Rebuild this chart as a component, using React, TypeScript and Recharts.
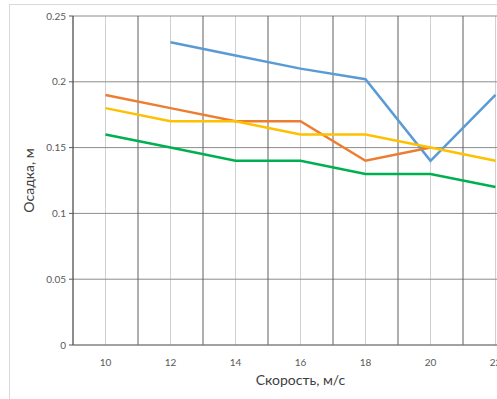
import { LineChart, Line, XAxis, YAxis, CartesianGrid, ReferenceLine, Label } from 'recharts';

const speeds = [10, 12, 14, 16, 18, 20, 22];
const seriesBlue = [null, 0.23, 0.22, 0.21, 0.202, 0.14, 0.19];
const seriesOrange = [0.19, 0.18, 0.17, 0.17, 0.14, 0.15, null];
const seriesYellow = [0.18, 0.17, 0.17, 0.16, 0.16, 0.15, 0.14];
const seriesGreen = [0.16, 0.15, 0.14, 0.14, 0.13, 0.13, 0.12];

const xTicks = [10, 12, 14, 16, 18, 20, 22];
const majorX = [11, 13, 15, 17, 19, 21, 23];
const yTicks = [0, 0.05, 0.1, 0.15, 0.2, 0.25];

const data = speeds.map((s, i) => ({
  speed: s,
  blue: seriesBlue[i] ?? undefined,
  orange: seriesOrange[i] ?? undefined,
  yellow: seriesYellow[i] ?? undefined,
  green: seriesGreen[i] ?? undefined,
}));

const tickStyle = { fontSize: 10, fill: '#595959', fontFamily: 'Lato, "Open Sans", sans-serif' };
const titleFont = 'Lato, "Open Sans", sans-serif';

export default function App() {
  return (
    <div style={{ position: 'absolute', left: 0, top: 0, width: 497, height: 399, overflow: 'hidden', background: '#fff' }}>
      <div style={{ position: 'absolute', left: 9, top: 4, width: 700, height: 600, border: '1px solid #d9d9d9' }} />
      <div style={{ position: 'absolute', left: 0, top: 0 }}>
        <LineChart width={540} height={399} data={data} margin={{ top: 16, right: 12, bottom: 24, left: 0 }}>
          <CartesianGrid horizontal={false} vertical stroke="#d0d0d0" strokeWidth={1} />
          <CartesianGrid vertical={false} horizontal stroke="#8c8c8c" strokeWidth={1} />
          {majorX.map((x) => (
            <ReferenceLine key={x} x={x} stroke="#5f5f5f" strokeWidth={1} />
          ))}
          <XAxis
            dataKey="speed"
            type="number"
            domain={[9, 23]}
            ticks={xTicks}
            allowDataOverflow
            height={30}
            tickLine={false}
            axisLine={{ stroke: '#7f7f7f' }}
            tick={tickStyle}
            tickMargin={8}
          >
            <Label
              content={({ viewBox }: any) => (
                <text
                  x={viewBox.x + viewBox.width / 2}
                  y={381}
                  textAnchor="middle"
                  dominantBaseline="middle"
                  fontSize={14}
                  fill="#404040"
                  fontFamily={titleFont}
                >
                  Скорость, м/с
                </text>
              )}
            />
          </XAxis>
          <YAxis
            type="number"
            domain={[0, 0.25]}
            ticks={yTicks}
            width={73}
            tickSize={4}
            tickLine={{ stroke: '#595959' }}
            axisLine={{ stroke: '#333333' }}
            tick={tickStyle}
            tickMargin={3}
            tickFormatter={(v: number) => String(v)}
          >
            <Label
              content={({ viewBox }: any) => {
                const cy = viewBox.y + viewBox.height / 2;
                return (
                  <text
                    x={30}
                    y={cy}
                    transform={`rotate(-90 30 ${cy})`}
                    textAnchor="middle"
                    dominantBaseline="middle"
                    fontSize={14}
                    fill="#404040"
                    fontFamily={titleFont}
                  >
                    Осадка, м
                  </text>
                );
              }}
            />
          </YAxis>
          <Line type="linear" dataKey="blue" stroke="#5b9bd5" strokeWidth={2.5} dot={false} isAnimationActive={false} />
          <Line type="linear" dataKey="orange" stroke="#ed7d31" strokeWidth={2.5} dot={false} isAnimationActive={false} />
          <Line type="linear" dataKey="yellow" stroke="#ffc000" strokeWidth={2.5} dot={false} isAnimationActive={false} />
          <Line type="linear" dataKey="green" stroke="#00b050" strokeWidth={2.5} dot={false} isAnimationActive={false} />
        </LineChart>
      </div>
    </div>
  );
}
